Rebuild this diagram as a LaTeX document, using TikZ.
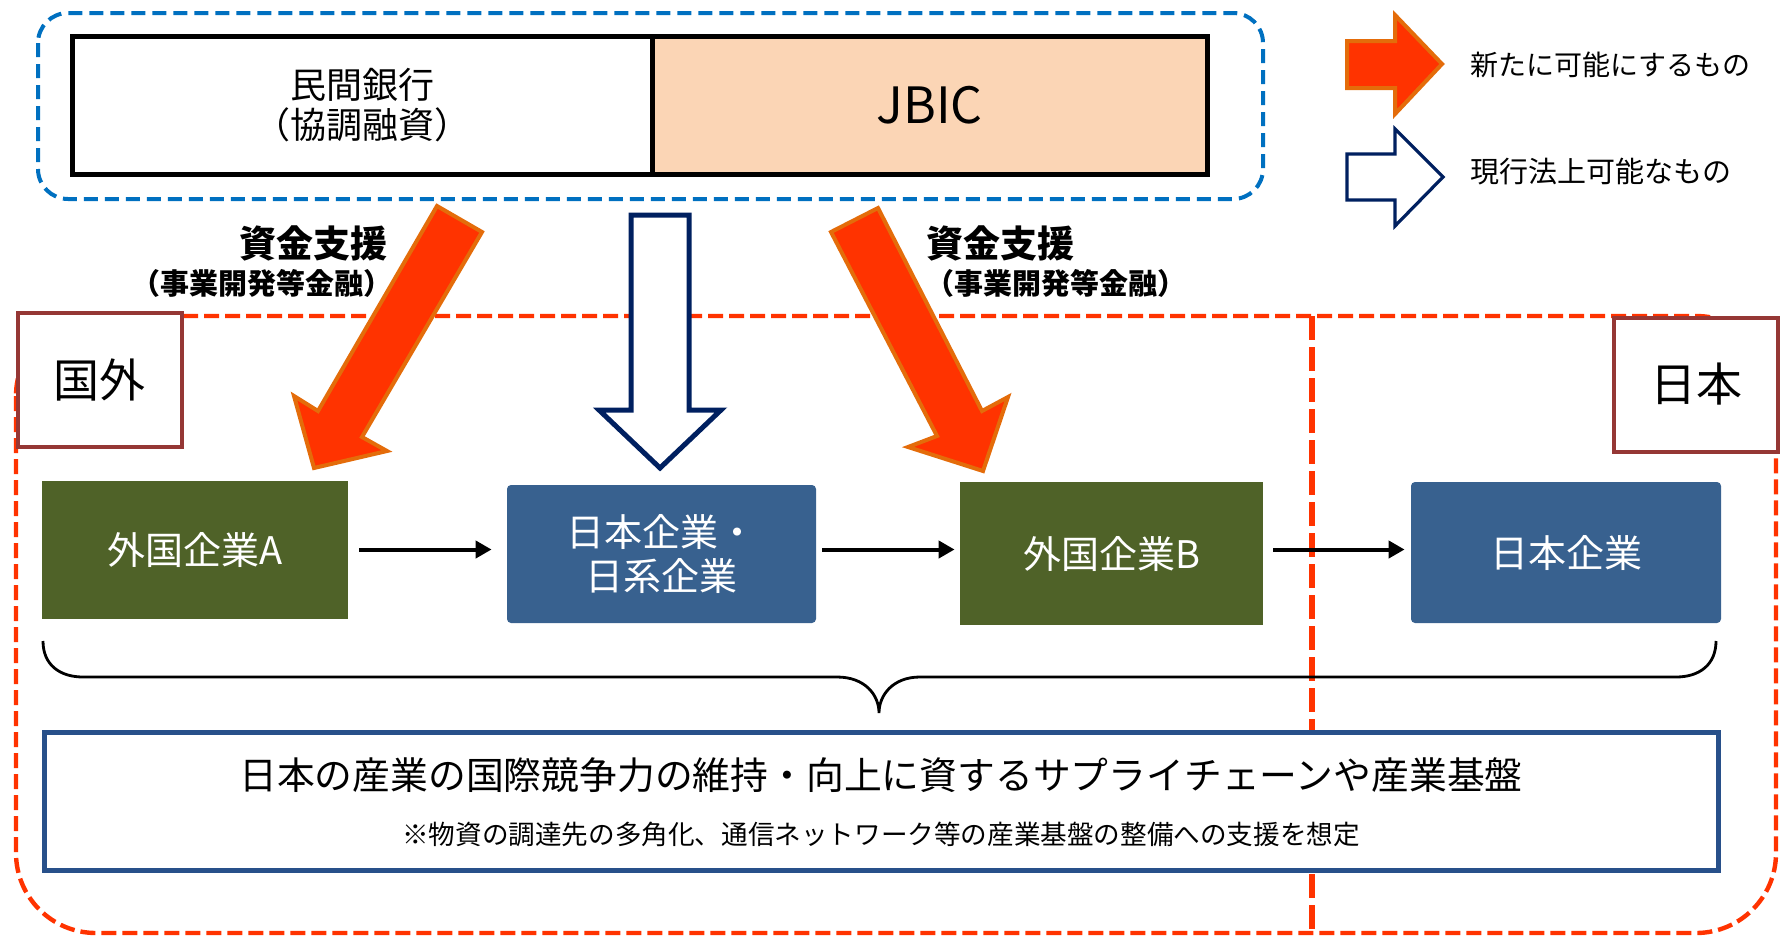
\documentclass[tikz,border=0pt]{standalone}
\usepackage{fontspec}
\setmainfont{Noto Sans CJK JP}
\usepackage{tikz}
\usepackage{xcolor}
\usetikzlibrary{shapes,arrows.meta}
\definecolor{firmgreen}{HTML}{4F6228}
\definecolor{firmblue}{HTML}{38618F}
\definecolor{bankblue}{HTML}{0070C0}
\definecolor{areared}{HTML}{FF3300}
\definecolor{arroworange}{HTML}{E46C0A}
\definecolor{navyline}{HTML}{002060}
\definecolor{regionbrown}{HTML}{953735}
\definecolor{jbicpeach}{HTML}{FBD5B5}
\definecolor{goalblue}{HTML}{28508A}

\begin{document}
\begin{tikzpicture}[x=0.5pt,y=-0.5pt]
\tikzstyle{every node}=[font=\fontsize{18pt}{22pt}\selectfont]
\tikzstyle{firm}=[minimum width=153pt, minimum height=69pt, inner sep=0pt, text=white, align=center, font=\fontsize{19pt}{22pt}\selectfont]
\tikzstyle{region}=[draw=regionbrown, line width=2pt, fill=white, minimum width=82pt, minimum height=67pt, font=\fontsize{23pt}{26pt}\selectfont]
\tikzstyle{newarrow}=[fill=areared, draw=arroworange, line width=2pt, line join=miter]
\tikzstyle{oldarrow}=[fill=white, draw=navyline, line width=2.5pt, line join=miter]
\tikzstyle{flow}=[-{Triangle[length=8pt,width=8.5pt]}, line width=2pt]
\tikzstyle{support}=[font=\fontsize{18.5pt}{22pt}\selectfont\bfseries]
\tikzstyle{supportsub}=[font=\fontsize{14.5pt}{16pt}\selectfont\bfseries]
\useasboundingbox (0,0) rectangle (1787,937);

\draw[bankblue, line width=2pt, dash pattern=on 7pt off 3.5pt, rounded corners=15pt] (38,13) rectangle (1263,199);
\node[draw, line width=2.5pt, fill=white, minimum width=289.75pt, minimum height=69pt, inner sep=0pt, align=center, font=\fontsize{18pt}{20pt}\selectfont] (bank) at (362.25,105.5) {民間銀行\\（協調融資）};
\node[draw, line width=2.5pt, fill=jbicpeach, minimum width=277.75pt, minimum height=69pt, inner sep=0pt, font=\fontsize{25pt}{28pt}\selectfont] (jbic) at (929.75,105.5) {JBIC};

\draw[newarrow] (1347,41) -- (1395,41) -- (1395,15) -- (1442,64) -- (1395,114) -- (1395,88) -- (1347,88) -- cycle;
\draw[fill=white, draw=navyline, line width=1.6pt, line join=miter] (1347,154) -- (1395,154) -- (1395,129) -- (1443,177) -- (1395,226) -- (1395,200) -- (1347,200) -- cycle;
\node[anchor=west, inner sep=0pt, font=\fontsize{14pt}{16pt}\selectfont] (newlabel) at (1470,65) {新たに可能にするもの};
\node[anchor=west, inner sep=0pt, font=\fontsize{14.5pt}{16pt}\selectfont] (oldlabel) at (1470,172) {現行法上可能なもの};

\draw[areared, line width=2.2pt, dash pattern=on 7.5pt off 3pt, rounded corners=40pt] (16,316) rectangle (1776,933);
\draw[areared, line width=3pt, dash pattern=on 12pt off 3.5pt] (1312,316) -- (1312,933);
\node[region] (abroad) at (99.5,380) {国外};
\node[region] (japan) at (1696,384.5) {日本};

\draw[newarrow] (437,206) -- (482,232) -- (362,437) -- (387,451) -- (314,468) -- (294,396) -- (318,411) -- cycle;
\draw[newarrow] (878,208) -- (982,411) -- (1008,397) -- (983,471) -- (908,447) -- (937,436) -- (831,232) -- cycle;
\draw[oldarrow] (631,215) -- (689,215) -- (689,410) -- (721,410) -- (660,468) -- (599,410) -- (631,410) -- cycle;

\node[support] (supL) at (313,243) {資金支援};
\node[supportsub] (supLsub) at (262,283) {（事業開発等金融）};
\node[support] (supR) at (1000,243) {資金支援};
\node[supportsub] (supRsub) at (1056,283) {（事業開発等金融）};

\node[firm, fill=firmgreen] (firmA) at (195,549.5) {外国企業A};
\node[firm, fill=firmblue, rounded corners=2pt, minimum width=154.5pt] (jpfirm) at (661.5,554) {日本企業・\\日系企業};
\node[firm, fill=firmgreen, minimum width=151.5pt, minimum height=71.5pt] (firmB) at (1111.5,553.5) {外国企業B};
\node[firm, fill=firmblue, rounded corners=2pt, minimum width=155pt, minimum height=70.5pt] (jphome) at (1566,552.5) {日本企業};

\draw[flow, shorten <=5.5pt, shorten >=7.5pt] (firmA.east) -- (firmA.east -| jpfirm.west);
\draw[flow, shorten <=3pt, shorten >=2.5pt] (jpfirm.east |- firmA.east) -- (firmB.west |- firmA.east);
\draw[flow, shorten <=5pt, shorten >=3pt] (firmB.east |- firmA.east) -- (jphome.west |- firmA.east);

\draw[line width=1.4pt] (43,641) .. controls (43,665) and (60,677) .. (83,677) -- (837,677) .. controls (865,677) and (879,695) .. (879,713) .. controls (879,695) and (893,677) .. (920,677) -- (1676,677) .. controls (1699,677) and (1716,665) .. (1716,641);

\node[draw=goalblue, line width=2.5pt, fill=white, minimum width=837pt, minimum height=69pt, inner sep=0pt] (goal) at (881.5,801.5) {};
\node[font=\fontsize{18.9pt}{22pt}\selectfont] (goaltext) at (881,775) {日本の産業の国際競争力の維持・向上に資するサプライチェーンや産業基盤};
\node[font=\fontsize{13.3pt}{16pt}\selectfont] (goalnote) at (881,834) {※物資の調達先の多角化、通信ネットワーク等の産業基盤の整備への支援を想定};
\end{tikzpicture}
\end{document}
